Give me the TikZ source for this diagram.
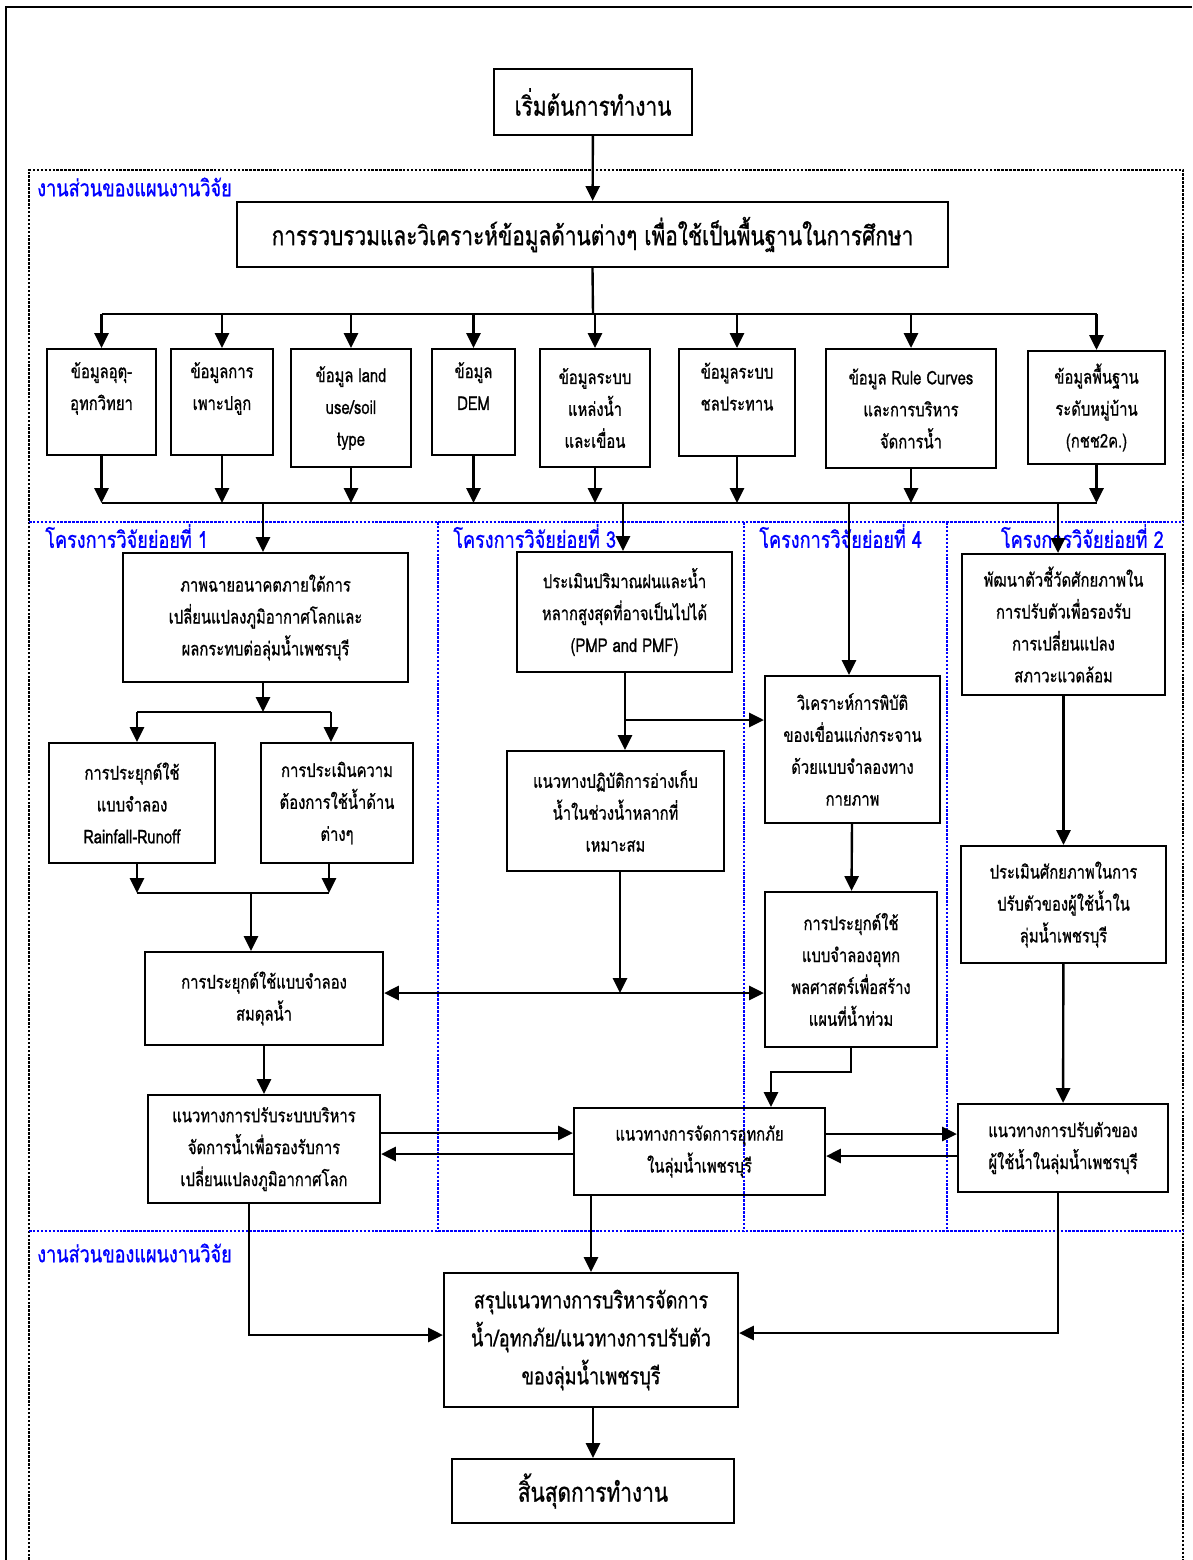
\documentclass[tikz,border=0pt]{standalone}
\usepackage{fontspec}
\setmainfont[Script=Thai,FakeStretch=0.78,FakeBold=0.8]{Loma}
\usepackage{tikz}
\usetikzlibrary{arrows.meta}
\usetikzlibrary{calc}

\begin{document}
\begin{tikzpicture}[x=0.025cm,y=-0.025cm,
  flowbox/.style={draw,line width=1.6pt,align=center,inner sep=2pt,font=\fontsize{13.5}{22.7}\selectfont},
  wh/.style 2 args={minimum width=#1*0.025cm,minimum height=#2*0.025cm},
  bigtext/.style={font=\fontsize{19}{24}\selectfont},
  sumtext/.style={font=\fontsize{16.5}{27}\selectfont},
  arr/.style={line width=1.7pt,-{Triangle[length=10.5pt,width=10pt]}},
  dblarr/.style={line width=1.7pt,{Triangle[length=10.5pt,width=10pt]}-{Triangle[length=10.5pt,width=10pt]}},
  plainline/.style={line width=1.7pt},
  partlabel/.style={text=blue,inner sep=0pt,font=\fontsize{16.5}{18}\selectfont},
  projlabel/.style={text=blue,inner sep=0pt,font=\fontsize{16.5}{18}\selectfont}]
\useasboundingbox (0,0) rectangle (1192,1560);
%% frame and section borders
\draw[line width=1.6pt] (6,1560) -- (6,7) -- (1192,7);
\draw[black,densely dotted,line width=1.8pt] (29,1560) -- (29,170) -- (1183,170) -- (1183,1560);
\draw[blue,densely dotted,line width=1.8pt] (29,522) -- (1183,522);
\draw[blue,densely dotted,line width=1.8pt] (29,1231) -- (1183,1231);
\foreach \x in {438,744,947}
    \draw[blue,densely dotted,line width=1.8pt] (\x,522) -- (\x,1231);
\node[partlabel,anchor=west] (plan1) at (37,187) {งานส่วนของแผนงานวิจัย};
\node[partlabel,anchor=west] (plan2) at (37,1253) {งานส่วนของแผนงานวิจัย};
\node[projlabel,anchor=west] (proj1) at (45,536) {โครงการวิจัยย่อยที่ 1};
\node[projlabel,anchor=west] (proj3) at (453,536) {โครงการวิจัยย่อยที่ 3};
\node[projlabel,anchor=west] (proj4) at (759,536) {โครงการวิจัยย่อยที่ 4};
\node[projlabel,anchor=east] (proj2) at (1164,536) {โครงการวิจัยย่อยที่ 2};

%% start and data collection
\node[flowbox,bigtext,wh={198}{66}] (start) at (593,102) {เริ่มต้นการทำงาน};
\node[flowbox,bigtext,wh={711}{65}] (collect) at (592.5,234.5) {การรวบรวมและวิเคราะห์ข้อมูลด้านต่างๆ เพื่อใช้เป็นพื้นฐานในการศึกษา};
\draw[arr] (start) -- (collect);

\node[flowbox,wh={109}{106}] (d1) at (101.5,402) {ข้อมูลอุตุ-\\อุทกวิทยา\\\mbox{}};
\node[flowbox,wh={102}{106}] (d2) at (222,402) {ข้อมูลการ\\เพาะปลูก\\\mbox{}};
\node[flowbox,wh={120}{118}] (d3) at (351,408) {ข้อมูล land\\use/soil\\type};
\node[flowbox,wh={83}{106}] (d4) at (473.5,402) {ข้อมูล\\DEM\\\mbox{}};
\node[flowbox,wh={110}{118}] (d5) at (595,408) {ข้อมูลระบบ\\แหล่งน้ำ\\และเขื่อน};
\node[flowbox,wh={116}{107}] (d6) at (737,402.5) {ข้อมูลระบบ\\ชลประทาน\\\mbox{}};
\node[flowbox,wh={170}{119}] (d7) at (911,408.5) {ข้อมูล Rule Curves\\และการบริหาร\\จัดการน้ำ};
\node[flowbox,wh={137}{113}] (d8) at (1096.5,407.5) {ข้อมูลพื้นฐาน\\ระดับหมู่บ้าน\\(กชช2ค.)};

\coordinate (topbus) at (593,314);
\coordinate (lowbus) at (593,503);
\draw[plainline] (collect.south) -- (topbus);
\draw[plainline] (d1.north |- topbus) -- (d8.north |- topbus);
\draw[plainline] (d1.south |- lowbus) -- (d8.south |- lowbus);
\foreach \n in {1,...,8} {
    \draw[arr] (d\n.north |- topbus) -- (d\n.north);
    \draw[arr] (d\n.south) -- (d\n.south |- lowbus);
}

%% sub-project 1
\node[flowbox,wh={285}{129}] (p1a) at (265.5,617.5) {ภาพฉายอนาคตภายใต้การ\\เปลี่ยนแปลงภูมิอากาศโลกและ\\ผลกระทบต่อลุ่มน้ำเพชรบุรี};
\node[flowbox,wh={166}{120}] (p1b) at (132,803) {การประยุกต์ใช้\\แบบจำลอง\\Rainfall-Runoff};
\node[flowbox,wh={152}{120}] (p1c) at (337,803) {การประเมินความ\\ต้องการใช้น้ำด้าน\\ต่างๆ};
\node[flowbox,wh={238}{93}] (p1d) at (264,998.5) {การประยุกต์ใช้แบบจำลอง\\สมดุลน้ำ};
\node[flowbox,wh={232}{108}] (p1e) at (264,1149) {แนวทางการปรับระบบบริหาร\\จัดการน้ำเพื่อรองรับการ\\เปลี่ยนแปลงภูมิอากาศโลก};

%% sub-project 3
\node[flowbox,wh={215}{120}] (p3a) at (624.5,612) {ประเมินปริมาณฝนและน้ำ\\หลากสูงสุดที่อาจเป็นไปได้\\(PMP and PMF)};
\node[flowbox,wh={217}{120}] (p3b) at (615.5,811) {แนวทางปฏิบัติการอ่างเก็บ\\น้ำในช่วงน้ำหลากที่\\เหมาะสม};

%% sub-project 4
\node[flowbox,wh={175}{147}] (p4a) at (852.5,749.5) {วิเคราะห์การพิบัติ\\ของเขื่อนแก่งกระจาน\\ด้วยแบบจำลองทาง\\กายภาพ};
\node[flowbox,wh={172}{155}] (p4b) at (851,969.5) {การประยุกต์ใช้\\แบบจำลองอุทก\\พลศาสตร์เพื่อสร้าง\\แผนที่น้ำท่วม};
\node[flowbox,wh={251}{87}] (p5) at (699.5,1151.5) {แนวทางการจัดการอุทกภัย\\ในลุ่มน้ำเพชรบุรี};

%% sub-project 2
\node[flowbox,wh={203}{141}] (p2a) at (1063.5,624.5) {พัฒนาตัวชี้วัดศักยภาพใน\\การปรับตัวเพื่อรองรับ\\การเปลี่ยนแปลง\\สภาวะแวดล้อม};
\node[flowbox,wh={205}{117}] (p2b) at (1063.5,904.5) {ประเมินศักยภาพในการ\\ปรับตัวของผู้ใช้น้ำใน\\ลุ่มน้ำเพชรบุรี};
\node[flowbox,wh={210}{88}] (p2c) at (1063,1148) {แนวทางการปรับตัวของ\\ผู้ใช้น้ำในลุ่มน้ำเพชรบุรี};

%% summary and end
\node[flowbox,sumtext,wh={294}{134}] (summary) at (591,1340) {สรุปแนวทางการบริหารจัดการ\\น้ำ/อุทกภัย/แนวทางการปรับตัว\\ของลุ่มน้ำเพชรบุรี};
\node[flowbox,bigtext,wh={282}{64}] (finish) at (593,1491) {สิ้นสุดการทำงาน};

%% connectors from the data bus
\coordinate (b1) at (263,503);
\coordinate (b3) at (623,503);
\coordinate (b4) at (849,503);
\coordinate (b2) at (1058,503);
\draw[arr] (b1) -- (b1 |- p1a.north);
\draw[arr] (b3) -- (b3 |- p3a.north);
\draw[arr] (b4) -- (b4 |- p4a.north);
\draw[arr] (b2) -- (b2 |- p2a.north);

%% sub-project 1 flow
\coordinate (split1) at (263,712);
\coordinate (s1b) at (137,712);
\coordinate (s1c) at (331,712);
\coordinate (j1b) at (137,893);
\coordinate (j1c) at (329,893);
\coordinate (join1) at (251,893);
\draw[arr] (split1 |- p1a.south) -- (split1);
\draw[plainline] (s1b) -- (s1c);
\draw[arr] (s1b) -- (s1b |- p1b.north);
\draw[arr] (s1c) -- (s1c |- p1c.north);
\draw[arr] (j1b |- p1b.south) -- (j1b);
\draw[arr] (j1c |- p1c.south) -- (j1c);
\draw[plainline] (j1b) -- (j1c);
\draw[arr] (join1) -- (join1 |- p1d.north);
\draw[arr] (p1d) -- (p1e);

%% sub-project 3 and 4 flow
\coordinate (split3) at (625,720);
\coordinate (mid) at (620,993);
\coordinate (bend4) at (771,1072);
\draw[plainline] (split3 |- p3a.south) -- (split3);
\draw[arr] (split3) -- (split3 |- p3b.north);
\draw[arr] (split3) -- (split3 -| p4a.west);
\draw[dblarr] (p1d.east |- mid) -- (p4b.west |- mid);
\draw[arr] (mid |- p3b.south) -- (mid);
\draw[arr] (p4a) -- (p4b);
\draw[arr] (p4b.south) |- (bend4) -- (bend4 |- p5.north);

%% sub-project 2 flow
\draw[arr] (p2a) -- (p2b);
\draw[arr] (p2b) -- (p2c);

%% exchanges between guidelines
\draw[arr] (p1e.east |- 0,1133) -- (p5.west |- 0,1133);
\draw[arr] (p5.west |- 0,1154) -- (p1e.east |- 0,1154);
\draw[arr] (p5.east |- 0,1134) -- (p2c.west |- 0,1134);
\draw[arr] (p2c.west |- 0,1156) -- (p5.east |- 0,1156);

%% into the summary
\coordinate (l1) at (249,1335);
\coordinate (r1) at (1058,1333);
\draw[arr] (p5.south -| summary.north) -- (summary.north);
\draw[arr] (l1 |- p1e.south) -- (l1) -- (l1 -| summary.west);
\draw[arr] (r1 |- p2c.south) -- (r1) -- (r1 -| summary.east);
\draw[arr] (summary.south -| finish.north) -- (finish.north);
\end{tikzpicture}
\end{document}
